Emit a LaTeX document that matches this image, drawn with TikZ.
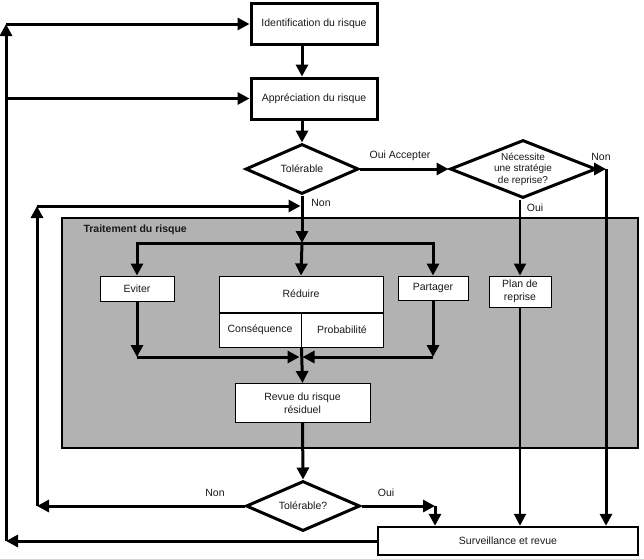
\documentclass[tikz,border=0pt]{standalone}
\usepackage{fontspec}
\setmainfont{Liberation Sans}
\usetikzlibrary{arrows.meta, positioning, shapes.geometric}

\begin{document}
\begin{tikzpicture}[
  x=1pt, y=-1pt,
  every node/.style={font=\fontsize{10.5}{12.5}\selectfont, text=black!90},
  bigbox/.style={draw, line width=3pt, fill=white, minimum width=126pt, minimum height=41pt},
  smallbox/.style={draw, line width=1pt, fill=white, inner sep=2pt, align=center},
  decision/.style={diamond, draw, line width=3pt, fill=white, inner sep=0pt, align=center},
  zone/.style={draw, line width=2pt, fill=black!30},
  arr/.style={-{Triangle[length=12pt, width=12pt]}, line width=3pt},
  thinarr/.style={arr, line width=2pt},
  lbl/.style={inner sep=1pt}
]
  \useasboundingbox[fill=white] (0,0) rectangle (644,558);

  % zone de traitement
  \node[zone, minimum width=576pt, minimum height=230pt] (trait) at (350,333) {};
  \node[anchor=west, font=\fontsize{10.5}{12.5}\selectfont\bfseries] (traitlbl) at (80,230) {Traitement du risque};

  % etapes
  \node[bigbox] (ident) at (314,24) {Identification du risque};
  \node[bigbox] (apprec) at (314,98.5) {Appréciation du risque};
  \node[decision, aspect=2.3, minimum width=113pt, minimum height=50pt] (tol) at (302,169) {Tolérable};
  \node[decision, aspect=2.5, minimum width=146pt, minimum height=58pt,
        font=\fontsize{10}{11.5}\selectfont] (strat) at (523,169) {Nécessite\\une stratégie\\de reprise?};

  \node[smallbox, minimum width=74pt, minimum height=25pt] (eviter) at (137,288.5) {Eviter};
  \node[smallbox, minimum width=164pt, minimum height=36pt] (reduire) at (301,294) {Réduire};
  \node[smallbox, minimum width=82pt, minimum height=34pt, anchor=north west] (conseq) at (reduire.south west) {Conséquence};
  \node[smallbox, minimum width=82pt, minimum height=34pt, anchor=north east] (proba) at (reduire.south east) {Probabilité};
  \node[smallbox, minimum width=70pt, minimum height=24pt] (partager) at (433,288) {Partager};
  \node[smallbox, minimum width=62pt, minimum height=31pt] (plan) at (520,291.5) {Plan de\\reprise};
  \node[smallbox, minimum width=135pt, minimum height=39pt] (revue) at (302.5,403) {Revue du risque\\résiduel};

  \node[decision, aspect=2.3, minimum width=114pt, minimum height=50pt] (tol2) at (303,506) {Tolérable?};
  \node[bigbox, line width=2.5pt, minimum width=260pt, minimum height=28pt] (surv) at (508,541) {Surveillance et revue};

  % points de passage
  \coordinate (split) at (302,243);
  \coordinate (merge) at (301,357);
  \coordinate (outerbot) at (6,541);
  \coordinate (outertop) at (6,24);
  \coordinate (innerbot) at (37,506);
  \coordinate (innertop) at (37,206);
  \coordinate (nonturn) at (606,169);
  \coordinate (ouiturn) at (435,506);

  % liaisons
  \draw[arr] (ident.south -| tol.north) -- (apprec.north -| tol.north);
  \draw[arr] (apprec.south -| tol.north) -- (tol.north);
  \draw[arr] (tol.east) -- (strat.west);
  \draw[arr] (tol.south) -- (split);
  \draw[arr] (split) -| (eviter.north);
  \draw[arr] (split) -| (partager.north);
  \draw[arr] (split) -- (reduire.north);
  \draw[arr] (eviter.south) -- (eviter.south |- merge);
  \draw[arr, shorten >=1.5pt] (eviter.south |- merge) -- (merge);
  \draw[arr] (partager.south) -- (partager.south |- merge);
  \draw[arr, shorten >=1.5pt] (partager.south |- merge) -- (merge);
  \draw[arr] (conseq.south east) -- (revue.north);
  \draw[arr] (revue.south) -- (tol2.north);
  \draw[arr] (tol2.west) -- (innerbot);
  \draw[arr] (innerbot) -- (innertop);
  \draw[arr, shorten >=1.5pt] (innertop) -- (innertop -| tol.south);
  \draw[arr] (tol2.east) -- (ouiturn);
  \draw[arr] (ouiturn) -- (ouiturn |- surv.north);
  \draw[thinarr] (plan.north |- strat.south) -- (plan.north);
  \draw[thinarr] (plan.south) -- (plan.south |- surv.north);
  \draw[arr] (strat.east) -- (nonturn);
  \draw[arr] (nonturn) -- (nonturn |- surv.north);
  \draw[arr] (surv.west) -- (outerbot);
  \draw[arr] (outerbot) -- (outertop);
  \draw[arr] (outertop) -- (ident.west);
  \draw[arr] (outertop |- apprec.west) -- (apprec.west);

  % etiquettes
  \node[lbl] (ouiacc) at (400,156) {Oui Accepter};
  \node[lbl] (nonright) at (601,157) {Non};
  \node[lbl] (ouiplan) at (535,208) {Oui};
  \node[lbl] (nontol) at (321,203) {Non};
  \node[lbl] (nonbot) at (215,493) {Non};
  \node[lbl] (ouibot) at (386,493) {Oui};
\end{tikzpicture}
\end{document}
